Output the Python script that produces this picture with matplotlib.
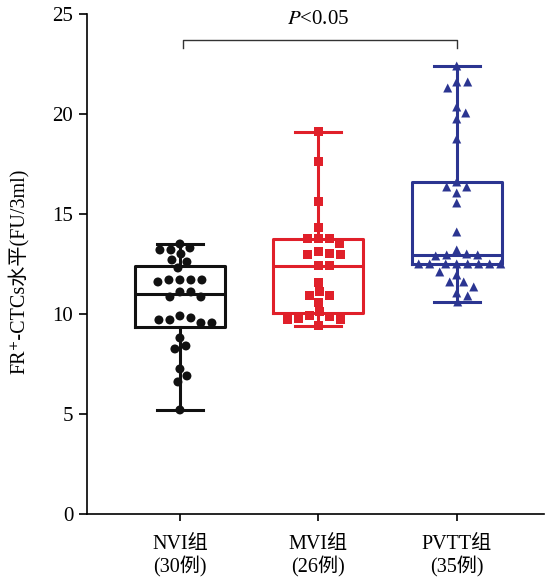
import numpy as np
import matplotlib.pyplot as plt

# 字体: 西文用 Times 风格, 中文用 Noto Sans CJK
plt.rcParams["font.family"] = ["Liberation Serif", "DejaVu Serif", "Noto Sans CJK SC"]
plt.rcParams["mathtext.fontset"] = "stix"

groups = ["NVI组\n(30例)", "MVI组\n(26例)", "PVTT组\n(35例)"]
nvi = [13.5, 13.3, 13.2, 13.0, 13.2, 12.7, 12.6, 12.3, 11.7, 11.7, 11.6, 11.7, 11.7,
       11.1, 10.85, 10.85, 11.1, 9.9, 9.7, 9.55, 9.55, 9.7, 9.8, 8.8, 8.4, 8.25,
       7.25, 6.9, 6.6, 5.2]
mvi = [19.1, 17.6, 15.6, 14.3, 13.75, 13.75, 13.75, 13.5, 13.1, 12.95, 13.0, 12.95,
       12.4, 12.4, 11.55, 11.1, 10.9, 10.9, 10.55, 9.85, 9.7, 9.4, 9.75, 10.1, 9.7, 9.9]
pvtt = [22.4, 21.6, 21.6, 21.3, 20.35, 20.05, 19.75, 18.75, 16.6, 16.35, 16.35, 16.05,
        15.55, 14.1, 13.2, 12.95, 12.95, 12.9, 13.0,
        12.5, 12.5, 12.5, 12.5, 12.5, 12.5, 12.5, 12.5,
        12.1, 11.95, 11.6, 11.6, 11.35, 11.05, 10.9, 10.6]
data = [nvi, mvi, pvtt]
colors = ["#111111", "#e0202a", "#2b3591"]
markers = ["o", "s", "^"]
yticks = [0, 5, 10, 15, 20, 25]
p_text = r"$P$<0.05"

fig = plt.figure(figsize=(5.45, 5.84), dpi=100)
ax = fig.add_axes([0.16, 0.12, 0.838, 0.856])
ax.set_xlim(0.33, 3.63)
ax.set_ylim(0, 25)


def box_stats(v):
    v = np.asarray(v)
    q1, med, q3 = np.percentile(v, [25, 50, 75], method="weibull")
    return dict(med=med, q1=q1, q3=q3, whislo=v.min(), whishi=v.max(), fliers=[])


def swarm(x0, vals, dx=11.0, dy=9.0, step=1.0):
    """类似 Prism 的散点排布, 返回每个点的 x 坐标"""
    vals = np.asarray(vals, dtype=float)
    pts = ax.transData.transform(np.column_stack([np.full(len(vals), x0), vals]))
    placed = []
    out_px = np.zeros(len(vals))
    offsets = [0.0]
    for k in range(1, 200):
        offsets += [k * step, -k * step]
    for i in np.argsort(-vals, kind="stable"):
        px, py = pts[i]
        for off in offsets:
            cx = px + off
            if all(((cx - qx) / dx) ** 2 + ((py - qy) / dy) ** 2 >= 1 for qx, qy in placed):
                break
        placed.append((cx, py))
        out_px[i] = cx
    back = ax.transData.inverted().transform(np.column_stack([out_px, pts[:, 1]]))
    return back[:, 0]


for i, (vals, c, m) in enumerate(zip(data, colors, markers)):
    pos = i + 1
    lp = dict(color=c, linewidth=2.2)
    ax.bxp([box_stats(vals)], positions=[pos], widths=0.65, showfliers=False,
           boxprops=lp, whiskerprops=lp, capprops=lp, medianprops=lp, capwidths=0.33)
    xs = swarm(pos, vals)
    ax.scatter(xs, vals, marker=m, s=42, color=c, edgecolors="none", zorder=3)

# 显著性标注
ax.plot([1.02, 1.02, 3, 3], [23.3, 23.7, 23.7, 23.3], color="#333333", lw=1.0, clip_on=False)
ax.text(2, 24.75, p_text, ha="center", va="center", fontsize=15)

ax.set_xticks([1, 2, 3])
ax.set_xticklabels(groups, fontsize=14.5, linespacing=1.15)
ax.set_yticks(yticks)
ax.tick_params(axis="y", labelsize=15, length=6, width=1.2, direction="out", pad=4)
ax.tick_params(axis="x", length=5, width=1.2, pad=10)
ax.set_ylabel("FR⁺-CTCs水平(FU/3ml)", fontsize=14.5)
ax.yaxis.set_label_coords(-0.125, 0.485)

for s in ["top", "right"]:
    ax.spines[s].set_visible(False)
for s in ["left", "bottom"]:
    ax.spines[s].set_linewidth(1.2)

fig.savefig("out.png", dpi=100)
